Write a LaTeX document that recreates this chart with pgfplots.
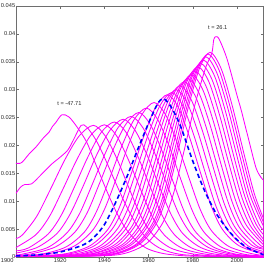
\documentclass[border=0pt]{standalone}
\usepackage{fontspec}
\setmainfont{Liberation Sans}
\usepackage{pgfplots}
\pgfplotsset{compat=1.18}
\definecolor{mag}{RGB}{255,0,255}
\definecolor{axgray}{RGB}{110,110,110}
\begin{document}
\begin{tikzpicture}
\path[use as bounding box] (-16bp,-9bp) rectangle (250bp,257.5bp);
\begin{axis}[
  at={(0,0)}, anchor=south west,
  scale only axis, width=248bp, height=251.5bp,
  xmin=1900, xmax=2012, ymin=0, ymax=0.045,
  xtick={1900,1920,1940,1960,1980,2000},
  xticklabels={\makebox[0pt][r]{1900\hspace{2.5bp}},1920,1940,1960,1980,2000},
  ytick={0,0.005,0.01,0.015,0.02,0.025,0.03,0.035,0.04,0.045},
  yticklabels={0,0.005,0.01,0.015,0.02,0.025,0.03,0.035,0.04,0.045},
  tick align=inside, tick pos=both,
  major tick length=3bp,
  axis line style={axgray, line width=0.5bp},
  every tick/.style={axgray, line width=0.5bp},
  tick label style={font=\fontsize{5.7}{6}\selectfont, text=black!85},
  yticklabel style={inner xsep=0.6bp},
  xticklabel style={inner ysep=1.2bp},
  clip=true,
  mc/.style={color=mag, line width=0.85bp, smooth, mark=none, solid},
]
% curve 1 (t = -47.71)
\addplot[mc] coordinates {(1900,.0168)(1902,.0168)(1903.5,.0173)(1906,.0185)(1909,.0197)(1912.3,.0213)(1915,.0224)(1916.5,.0234)(1918,.0241)(1920.8,.0255)(1924,.0251)(1928,.0231)(1932,.0206)(1935,.0177)(1938,.0148)(1942,.0110)(1946,.0076)(1950,.0049)(1955,.0027)(1960,.0014)(1967,.0006)(1977,.0002)(1990,.0001)(2012,0)};
\addplot[mc] coordinates {(1900,.0114)(1902,.0125)(1904,.0130)(1907,.0131)(1911,.0146)(1916,.0166)(1920,.0179)(1923.5,.0192)(1926,.0210)(1929.5,.0236)(1932,.0233)(1936,.0211)(1940,.0179)(1945,.0134)(1950,.0091)(1955,.0055)(1960,.0030)(1966,.0014)(1974,.0005)(1985,.0002)(2000,.0001)(2012,0)};
\addplot[mc] coordinates {(1900,.0033)(1903,.0040)(1909.4,.0073)(1915.8,.0123)(1922.2,.0175)(1928.6,.0217)(1935,.0236)(1940.4,.0217)(1945.8,.0175)(1951.2,.0123)(1956.6,.0073)(1962,.0040)(1970.1,.0016)(1980.9,.0005)(1994.4,.0001)(2012,0)};
\addplot[mc] coordinates {(1900,.0017)(1909,.0040)(1915.2,.0073)(1921.4,.0123)(1927.6,.0175)(1933.8,.0218)(1940,.0237)(1945.4,.0218)(1950.8,.0175)(1956.2,.0123)(1961.6,.0073)(1967,.0040)(1975.1,.0016)(1985.9,.0005)(1999.4,.0001)(2012,0)};
\addplot[mc] coordinates {(1900,.0011)(1905.5,.0016)(1914.5,.0041)(1920.5,.0075)(1926.5,.0126)(1932.5,.0179)(1938.5,.0223)(1944.5,.0242)(1949.9,.0223)(1955.3,.0179)(1960.7,.0126)(1966.1,.0075)(1971.5,.0041)(1979.6,.0016)(1990.4,.0005)(2003.9,.0001)(2012,0)};
\addplot[mc] coordinates {(1900,.0007)(1909.5,.0017)(1918.5,.0042)(1924.5,.0077)(1930.5,.0128)(1936.5,.0183)(1942.5,.0227)(1948.5,.0247)(1953.9,.0227)(1959.3,.0183)(1964.7,.0128)(1970.1,.0077)(1975.5,.0042)(1983.6,.0017)(1994.4,.0005)(2007.9,.0001)(2012,0)};
\addplot[mc] coordinates {(1900,.0004)(1902.7,.0005)(1914.3,.0017)(1923,.0043)(1928.8,.0078)(1934.6,.0131)(1940.4,.0186)(1946.2,.0232)(1952,.0252)(1957.4,.0232)(1962.8,.0186)(1968.2,.0131)(1973.6,.0078)(1979,.0043)(1987.1,.0017)(1997.9,.0005)(2012,.0001)};
\addplot[mc] coordinates {(1900,.0003)(1906.2,.0005)(1917.8,.0018)(1926.5,.0044)(1932.3,.0080)(1938.1,.0135)(1943.9,.0192)(1949.7,.0238)(1955.5,.0259)(1960.7,.0238)(1965.9,.0192)(1971.1,.0135)(1976.3,.0080)(1981.5,.0044)(1989.3,.0018)(1999.7,.0005)(2012,.0001)};
\addplot[mc] coordinates {(1900,.0001)(1911.4,.0005)(1922.6,.0018)(1931,.0045)(1936.6,.0083)(1942.2,.0139)(1947.8,.0198)(1953.4,.0246)(1959,.0267)(1964.2,.0246)(1969.4,.0198)(1974.6,.0139)(1979.8,.0083)(1985,.0045)(1992.8,.0018)(2003.2,.0005)(2012,.0002)};
\addplot[mc] coordinates {(1900,.0001)(1914.9,.0006)(1926.1,.0019)(1934.5,.0047)(1940.1,.0086)(1945.7,.0144)(1951.3,.0205)(1956.9,.0255)(1962.5,.0277)(1967.7,.0255)(1972.9,.0205)(1978.1,.0144)(1983.3,.0086)(1988.5,.0047)(1996.3,.0019)(2006.7,.0006)(2012,.0003)};
\addplot[mc] coordinates {(1900,.0001)(1909.1,.0002)(1922.6,.0006)(1933.4,.0020)(1941.5,.0049)(1946.9,.0090)(1952.3,.0151)(1957.7,.0215)(1963.1,.0268)(1968.5,.0291)(1973.5,.0268)(1978.5,.0215)(1983.5,.0151)(1988.5,.0090)(1993.5,.0049)(2001,.0020)(2012,.0005)};
\addplot[mc] coordinates {(1900,.0001)(1911.1,.0002)(1924.6,.0006)(1935.4,.0020)(1943.5,.0050)(1948.9,.0091)(1954.3,.0153)(1959.7,.0218)(1965.1,.0271)(1970.5,.0295)(1975.5,.0271)(1980.5,.0218)(1985.5,.0153)(1990.5,.0091)(1995.5,.0050)(2003,.0020)(2012,.0007)};
\addplot[mc] coordinates {(1900,.0001)(1914.2,.0002)(1927.5,.0006)(1938.1,.0020)(1946,.0051)(1951.3,.0093)(1956.6,.0156)(1961.9,.0222)(1967.2,.0276)(1972.5,.0300)(1977.5,.0276)(1982.5,.0222)(1987.5,.0156)(1992.5,.0093)(1997.5,.0051)(2005,.0020)(2012,.0010)};
\addplot[mc] coordinates {(1900,.0001)(1917.1,.0002)(1930.1,.0006)(1940.5,.0021)(1948.3,.0052)(1953.5,.0095)(1958.7,.0160)(1963.9,.0227)(1969.1,.0282)(1974.3,.0307)(1979.3,.0282)(1984.3,.0227)(1989.3,.0160)(1994.3,.0095)(1999.3,.0052)(2006.8,.0021)(2012,.0014)};
\addplot[mc] coordinates {(1900,.0001)(1918.9,.0002)(1931.9,.0006)(1942.3,.0021)(1950.1,.0053)(1955.3,.0097)(1960.5,.0163)(1965.7,.0232)(1970.9,.0289)(1976.1,.0314)(1981.1,.0289)(1986.1,.0232)(1991.1,.0163)(1996.1,.0097)(2001.1,.0053)(2008.6,.0021)(2012,.0016)};
\addplot[mc] coordinates {(1900,.0001)(1921.7,.0002)(1934.45,.0006)(1944.65,.0022)(1952.3,.0054)(1957.4,.0099)(1962.5,.0166)(1967.6,.0237)(1972.7,.0294)(1977.8,.0320)(1982.8,.0294)(1987.8,.0237)(1992.8,.0166)(1997.8,.0099)(2002.8,.0054)(2010.3,.0022)(2012,.0019)};
\addplot[mc] coordinates {(1900,.0001)(1923.3,.0002)(1936.05,.0007)(1946.25,.0022)(1953.9,.0056)(1959,.0101)(1964.1,.0170)(1969.2,.0242)(1974.3,.0301)(1979.4,.0327)(1984.4,.0301)(1989.4,.0242)(1994.4,.0170)(1999.4,.0101)(2004.4,.0056)(2012,.0022)};
\addplot[mc] coordinates {(1900,.0001)(1925.9,.0002)(1938.4,.0007)(1948.4,.0023)(1955.9,.0057)(1960.9,.0104)(1965.9,.0174)(1970.9,.0247)(1975.9,.0307)(1980.9,.0334)(1985.9,.0307)(1990.9,.0247)(1995.9,.0174)(2000.9,.0104)(2005.9,.0057)(2012,.0027)};
\addplot[mc] coordinates {(1900,.0001)(1927.3,.0002)(1939.8,.0007)(1949.8,.0023)(1957.3,.0058)(1962.3,.0106)(1967.3,.0177)(1972.3,.0252)(1977.3,.0314)(1982.3,.0341)(1987.3,.0314)(1992.3,.0252)(1997.3,.0177)(2002.3,.0106)(2007.3,.0058)(2012,.0032)};
\addplot[mc] coordinates {(1900,.0001)(1929.7,.0002)(1941.95,.0007)(1951.75,.0024)(1959.1,.0059)(1964,.0108)(1968.9,.0180)(1973.8,.0257)(1978.7,.0319)(1983.6,.0347)(1988.6,.0319)(1993.6,.0257)(1998.6,.0180)(2003.6,.0108)(2008.6,.0059)(2012,.0040)};
\addplot[mc] coordinates {(1900,.0001)(1930.9,.0002)(1943.15,.0007)(1952.95,.0024)(1960.3,.0060)(1965.2,.0109)(1970.1,.0184)(1975,.0261)(1979.9,.0325)(1984.8,.0353)(1989.8,.0325)(1994.8,.0261)(1999.8,.0184)(2004.8,.0109)(2009.8,.0060)(2012,.0048)};
\addplot[mc] coordinates {(1900,.0001)(1933.1,.0002)(1945.1,.0007)(1954.7,.0024)(1961.9,.0061)(1966.7,.0111)(1971.5,.0187)(1976.3,.0266)(1981.1,.0330)(1985.9,.0359)(1990.9,.0330)(1995.9,.0266)(2000.9,.0187)(2005.9,.0111)(2012,.0055)};
\addplot[mc] coordinates {(1900,.0001)(1934.1,.0002)(1946.1,.0007)(1955.7,.0025)(1962.9,.0062)(1967.7,.0113)(1972.5,.0189)(1977.3,.0269)(1982.1,.0335)(1986.9,.0364)(1991.9,.0335)(1996.9,.0269)(2001.9,.0189)(2006.9,.0113)(2012,.0062)};
\addplot[mc] coordinates {(1900,.0001)(1935,.0002)(1947,.0007)(1956.6,.0025)(1963.8,.0062)(1968.6,.0114)(1973.4,.0191)(1978.2,.0272)(1983,.0338)(1987.8,.0367)(1992.8,.0338)(1997.8,.0272)(2002.8,.0191)(2007.8,.0114)(2012,.0069)};
% last curve (t = 26.1)
\addplot[mc] coordinates {(1900,.0001)(1937.7,.0002)(1949.7,.0007)(1959.3,.0025)(1966.5,.0062)(1971.3,.0114)(1976.1,.0191)(1980.9,.0272)(1985.7,.0338)(1988.6,.0365)(1989.5,.0390)(1990.5,.0395)(1992,.0390)(1995.5,.0355)(2000,.0290)(2002,.0262)(2005,.0215)(2008.6,.0160)(2011,.0142)(2012,.0138)};
\addplot[color=mag, line width=0.85bp, mark=none, solid] coordinates {(2012,.0138)(2012,0)};
% highlighted curve
\addplot[color=blue, line width=1.6bp, dash pattern=on 4.5bp off 3bp, smooth, mark=none] coordinates {(1900,.0002)(1910,.0004)(1920,.0009)(1930,.0021)(1935,.0034)(1940,.0058)(1945,.0097)(1950,.0142)(1955,.0192)(1960,.0240)(1964,.0274)(1966.5,.0284)(1969,.0276)(1972,.0256)(1975,.0229)(1980,.0172)(1985,.0122)(1990,.0082)(1995,.0053)(2000,.0031)(2005,.0016)(2012,.0004)};
\node[font=\fontsize{5.7}{6}\selectfont, text=black!85] at (axis cs:1924.2,0.0275) {t = -47.71};
\node[font=\fontsize{5.7}{6}\selectfont, text=black!85] at (axis cs:1991.3,0.0412) {t = 26.1};
\end{axis}
\end{tikzpicture}
\end{document}
